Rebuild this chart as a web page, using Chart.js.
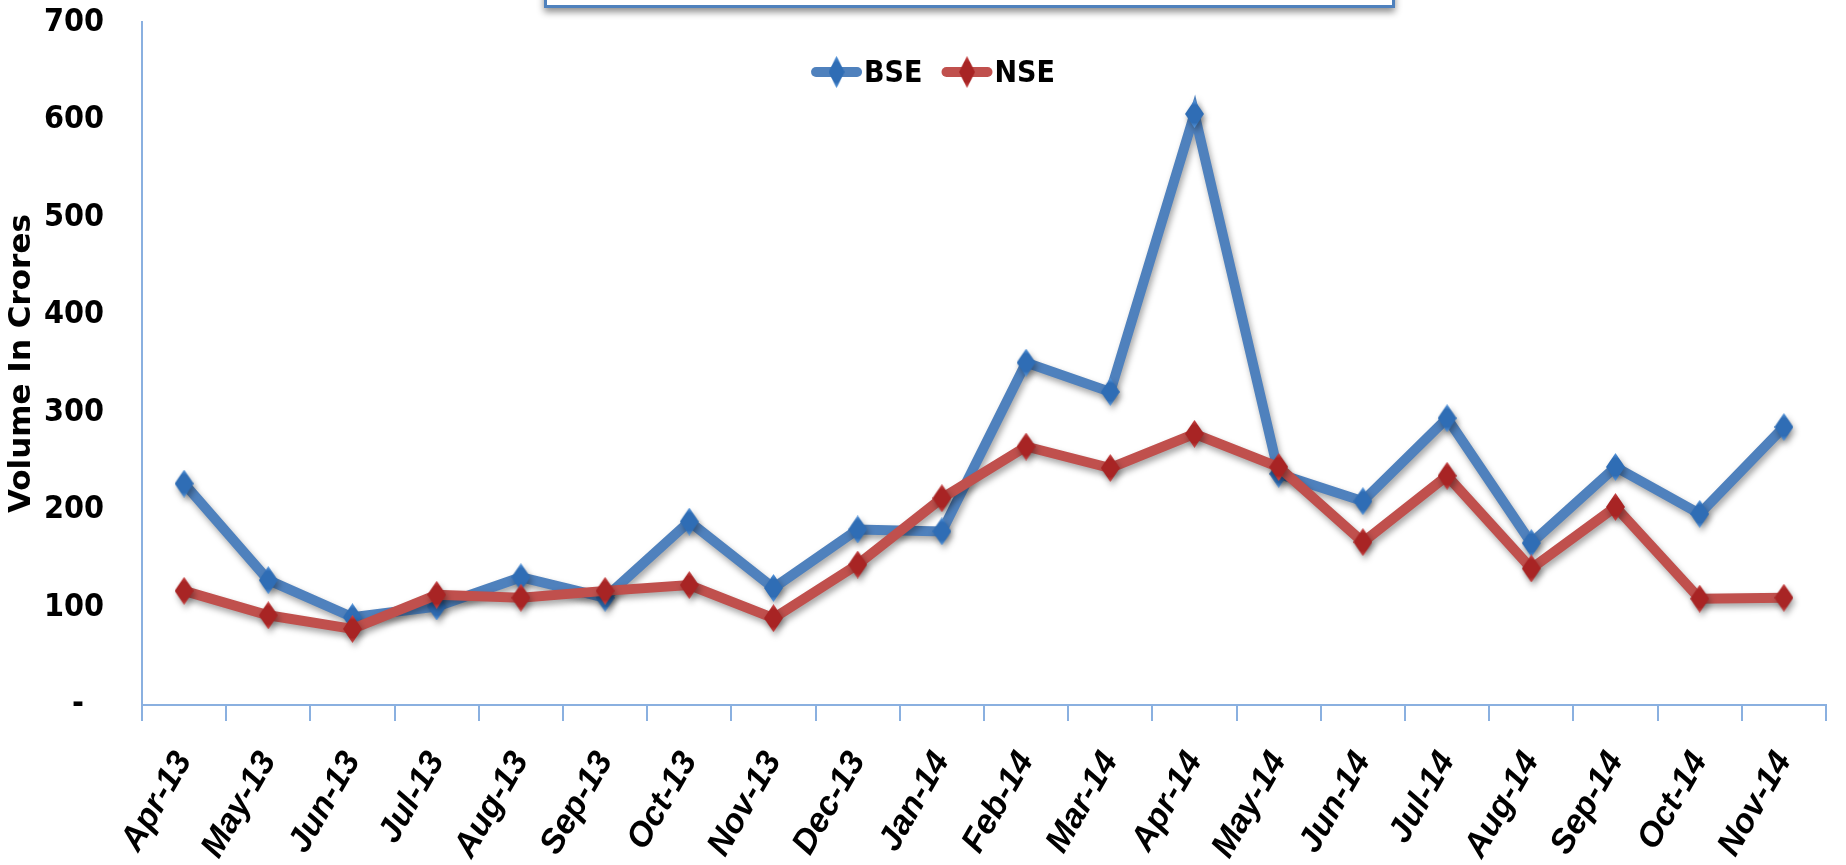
<!DOCTYPE html>
<html>
<head>
<meta charset="utf-8">
<title>BSE vs NSE volume</title>
<script src="https://cdn.jsdelivr.net/npm/chart.js@4.4.1/dist/chart.umd.min.js"></script>
<style>
   body { margin: 0; background: #fff; }
   .wrap { position: relative; width: 1846px; height: 865px; overflow: hidden; }
   .title-edge {
      position: absolute; left: 544px; top: -28px; width: 845px; height: 30px;
      background: #fff; border: 3px solid #4F81BD;
      box-shadow: 0 4px 7px rgba(0, 0, 0, 0.45);
   }
</style>
</head>
<body>
<div class="wrap">
   <canvas id="myChart" width="1846" height="865"></canvas>
   <div class="title-edge"></div>
</div>
<script>
// chart data
const months = ["Apr-13", "May-13", "Jun-13", "Jul-13", "Aug-13", "Sep-13", "Oct-13", "Nov-13", "Dec-13", "Jan-14",
   "Feb-14", "Mar-14", "Apr-14", "May-14", "Jun-14", "Jul-14", "Aug-14", "Sep-14", "Oct-14", "Nov-14"];
const bseVolume = [227, 128, 90, 101, 131, 110, 188, 120, 180, 178, 351, 321, 606, 237, 209, 294, 166, 244, 196, 285];
const nseVolume = [117, 92, 78, 113, 110, 117, 123, 89, 144, 212, 265, 243, 278, 244, 167, 235, 140, 203, 109, 110];
const seriesNames = ["BSE", "NSE"];
const yMax = 700;
const yStep = 100;

const bseColor = "#4F81BD";
const nseColor = "#C0504D";
const narrowFont = "'DejaVu Sans Condensed', 'DejaVu Sans', sans-serif";

// tall diamond marker drawn into a small canvas
function makeDiamond(dark, light, w, h) {
   let c = document.createElement("canvas");
   c.width = w;
   c.height = h;
   let g = c.getContext("2d");
   let grad = g.createRadialGradient(w / 2, h / 2, 1, w / 2, h / 2, h / 2);
   grad.addColorStop(0, dark);
   grad.addColorStop(0.6, dark);
   grad.addColorStop(1, light);
   g.beginPath();
   g.moveTo(w / 2, 0);
   g.lineTo(w, h / 2);
   g.lineTo(w / 2, h);
   g.lineTo(0, h / 2);
   g.closePath();
   g.fillStyle = grad;
   g.fill();
   return c;
}

const bseMarker = makeDiamond("#2F6DB5", "#5B9BE0", 19, 28);
const nseMarker = makeDiamond("#A82424", "#CC4B4B", 19, 28);

// soft shadow under each line
const lineShadow = {
   id: "lineShadow",
   beforeDatasetDraw(chart) {
      const ctx = chart.ctx;
      ctx.save();
      ctx.shadowColor = "rgba(0, 0, 0, 0.35)";
      ctx.shadowBlur = 6;
      ctx.shadowOffsetX = 2;
      ctx.shadowOffsetY = 4;
   },
   afterDatasetDraw(chart) {
      chart.ctx.restore();
   }
};

// legend sits inside the plot area, so it is drawn by hand
const insideLegend = {
   id: "insideLegend",
   afterDraw(chart) {
      const ctx = chart.ctx;
      const markers = [bseMarker, nseMarker];
      const y = 72;
      const lineLen = 51;
      const gap = 19;
      ctx.save();
      ctx.font = "bold 30px " + narrowFont;
      ctx.textBaseline = "middle";
      let total = 0;
      chart.data.datasets.forEach((ds, i) => {
         total += lineLen + 2 + ctx.measureText(ds.label).width + (i > 0 ? gap : 0);
      });
      let x = 933 - total / 2;
      chart.data.datasets.forEach((ds, i) => {
         ctx.strokeStyle = ds.borderColor;
         ctx.lineWidth = 10;
         ctx.lineCap = "round";
         ctx.beginPath();
         ctx.moveTo(x + 5, y);
         ctx.lineTo(x + lineLen - 5, y);
         ctx.stroke();
         ctx.drawImage(markers[i], x + lineLen / 2 - 8, y - 16, 16, 32);
         ctx.fillStyle = "#000";
         ctx.fillText(ds.label, x + lineLen + 2, y + 2);
         x += lineLen + 2 + ctx.measureText(ds.label).width + gap;
      });
      ctx.restore();
   }
};

let ctx = document.getElementById("myChart").getContext("2d");
let volumeChart = new Chart(ctx, {
   type: "line",
   data: {
      labels: months,
      datasets: [{
         label: seriesNames[0],
         data: bseVolume,
         borderColor: bseColor,
         backgroundColor: bseColor,
         borderWidth: 10,
         pointStyle: bseMarker,
         pointRadius: 10,
         tension: 0,
         order: 1
      }, {
         label: seriesNames[1],
         data: nseVolume,
         borderColor: nseColor,
         backgroundColor: nseColor,
         borderWidth: 10,
         pointStyle: nseMarker,
         pointRadius: 10,
         tension: 0,
         order: 0
      }]
   },
   options: {
      responsive: false,
      animation: false,
      devicePixelRatio: 1,
      layout: { padding: { top: 0, right: 2, left: 0, bottom: 0 } },
      plugins: {
         legend: { display: false },
         tooltip: { enabled: false }
      },
      scales: {
         x: {
            offset: true,
            grid: {
               offset: true,
               drawOnChartArea: false,
               tickLength: 16,
               color: "#8AB0E0",
               lineWidth: 2
            },
            border: { color: "#8AB0E0", width: 2 },
            ticks: {
               color: "#000",
               maxRotation: 60,
               minRotation: 60,
               padding: 24,
               font: { family: "'Liberation Sans', sans-serif", size: 34, weight: "bold", style: "italic" }
            },
            afterFit: (scale) => { scale.height = 160; }
         },
         y: {
            min: 0,
            max: yMax,
            // invisible tick marks keep the labels away from the axis line
            grid: { drawOnChartArea: false, drawTicks: true, tickLength: 35, color: "rgba(0, 0, 0, 0)" },
            border: { color: "#8AB0E0", width: 2 },
            ticks: {
               stepSize: yStep,
               color: "#000",
               padding: 3,
               font: { family: narrowFont, size: 32, weight: "bold" },
               callback: (v) => v === 0 ? "-  " : v
            },
            title: {
               display: true,
               text: "Volume In Crores",
               color: "#000",
               padding: { top: 3, bottom: 0 },
               font: { family: "'DejaVu Sans', sans-serif", size: 31, weight: "bold" }
            },
            afterFit: (scale) => { scale.width = 142; }
         }
      }
   },
   plugins: [lineShadow, insideLegend]
});
</script>
</body>
</html>
